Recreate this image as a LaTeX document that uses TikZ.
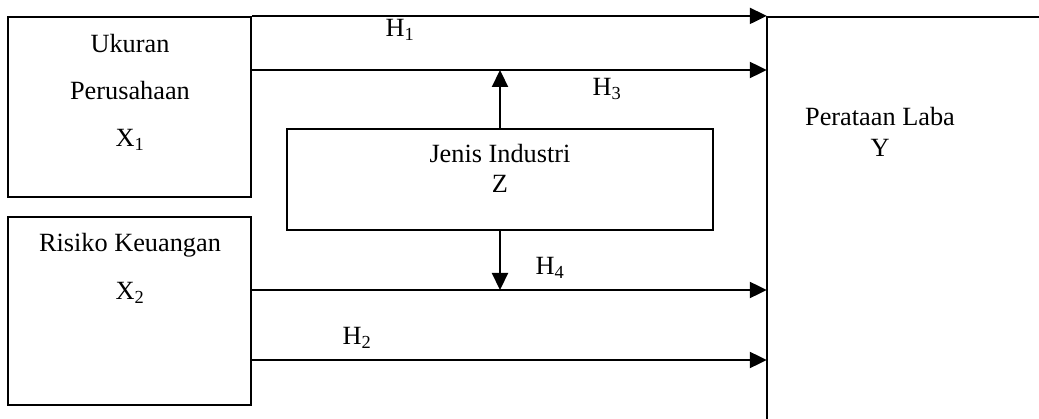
\documentclass[tikz,border=0pt]{standalone}
\usepackage{fontspec}
\setmainfont{Liberation Serif}
\usetikzlibrary{arrows.meta}
\begin{document}
\begin{tikzpicture}[x=1pt,y=-1pt,
  box/.style={draw,line width=2.2pt,inner sep=0pt},
  txt/.style={anchor=base,inner sep=0pt,font=\fontsize{26.3}{30}\selectfont},
  arr/.style={line width=2.2pt,-{Triangle[length=17pt,width=16pt]}},
  ln/.style={line width=2.2pt}]
\useasboundingbox (0,0) rectangle (1039,419);
% boxes
\node[box,minimum width=243pt,minimum height=180pt] (X1) at (129.5,107) {};
\node[box,minimum width=243pt,minimum height=188pt] (X2) at (129.5,311) {};
\node[box,minimum width=426pt,minimum height=101pt] (Z) at (500,179.5) {};
\node[inner sep=0pt,minimum width=290pt,minimum height=420pt] (Y) at (912,227) {};
\draw[ln] (Y.north east) -- (Y.north west) -- (Y.south west);
% texts
\node[txt] (t1) at (130,53) {Ukuran};
\node[txt] (t2) at (130,100) {Perusahaan};
\node[txt] (t3) at (130,147) {X\textsubscript{1}};
\node[txt] (t4) at (130,252) {Risiko Keuangan};
\node[txt] (t5) at (130,300) {X\textsubscript{2}};
\node[txt] (t6) at (500,163) {Jenis Industri};
\node[txt] (t7) at (500,193) {Z};
\node[txt] (t8) at (880,126) {Perataan Laba};
\node[txt] (t9) at (880,157) {Y};
% connectors
\draw[arr] (X1.north east) -- (Y.west |- X1.north east);
\draw[arr] (X1.east |- 0,70) -- (Y.west |- 0,70);
\draw[arr] (X2.east |- 0,290) -- (Y.west |- 0,290);
\draw[arr] (X2.east |- 0,360) -- (Y.west |- 0,360);
\draw[arr] (Z.north) -- (Z.north |- 0,70);
\draw[arr] (Z.south) -- (Z.south |- 0,290);
% labels
\node[txt] (h1) at (400,37) {H\textsubscript{1}};
\node[txt] (h3) at (607,96) {H\textsubscript{3}};
\node[txt] (h4) at (550,275) {H\textsubscript{4}};
\node[txt] (h2) at (357,345) {H\textsubscript{2}};
\end{tikzpicture}
\end{document}
